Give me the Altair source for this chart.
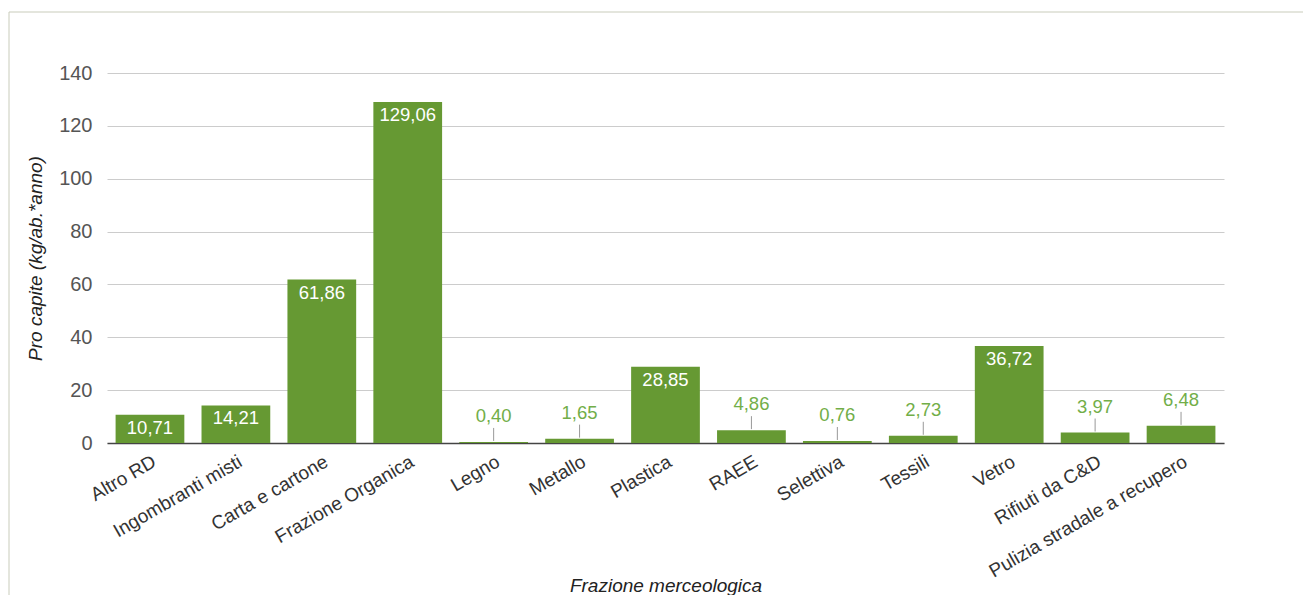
import altair as alt
import pandas as pd

categories = ["Altro RD", "Ingombranti misti", "Carta e cartone", "Frazione Organica",
              "Legno", "Metallo", "Plastica", "RAEE", "Selettiva", "Tessili", "Vetro",
              "Rifiuti da C&D", "Pulizia stradale a recupero"]
values = [10.71, 14.21, 61.86, 129.06, 0.40, 1.65, 28.85, 4.86, 0.76, 2.73, 36.72, 3.97, 6.48]

df = pd.DataFrame({"cat": categories, "v": values})

FONT = "Liberation Sans, Arial, sans-serif"
BAR = "#669933"
OUT_GREEN = "#72ae48"
THRESH = 10

base = alt.Chart(df).transform_calculate(
    label="replace(format(datum.v, '.2f'), '.', ',')"
)

x = alt.X("cat:N", sort=categories,
          scale=alt.Scale(paddingInner=0.2, paddingOuter=0.1),
          axis=alt.Axis(title="Frazione merceologica", labelAngle=-30, labelAlign="right",
                        labelBaseline="top", labelPadding=9, labelFontSize=19, labelLimit=0,
                        labelColor="#333333", ticks=False, domainColor="#444444",
                        domainWidth=1.5, titleFontSize=19, titleFontStyle="italic",
                        titleFontWeight="normal", titleColor="#222222",
                        titleY=152, titleBaseline="bottom", grid=False))
y = alt.Y("v:Q",
          scale=alt.Scale(domain=[0, 140], nice=False),
          axis=alt.Axis(title="Pro capite (kg/ab.*anno)", values=list(range(0, 141, 10)),
                        labelExpr="datum.value % 20 == 0 ? datum.label : ''",
                        labelFontSize=20, labelColor="#555555", labelPadding=15,
                        ticks=False, domain=False,
                        gridColor={"condition": {"test": "datum.value % 20 == 0", "value": "#cccccc"},
                                   "value": "#e8e8e8"},
                        titleFontSize=19, titleFontStyle="italic", titleFontWeight="normal",
                        titleColor="#222222", titleX=-72, titleY=185,
                        titleBaseline="middle", titleAlign="center"))

bars = base.mark_bar(color=BAR).encode(x=x, y=y)

inside = base.transform_filter(f"datum.v >= {THRESH}").mark_text(
    color="white", fontSize=18.5, baseline="middle", dy=13, font=FONT
).encode(x=alt.X("cat:N", sort=categories), y="v:Q", text="label:N")

outside = base.transform_filter(f"datum.v < {THRESH}").mark_text(
    color=OUT_GREEN, fontSize=18.5, baseline="middle", dy=-26, font=FONT
).encode(x=alt.X("cat:N", sort=categories), y="v:Q", text="label:N")

leaders = base.transform_filter(f"datum.v < {THRESH}").mark_rule(
    color="#999999", strokeWidth=1, yOffset=-1, y2Offset=-14
).encode(x=alt.X("cat:N", sort=categories), y="v:Q", y2="v")

border_top = alt.Chart(alt.Data(values=[{}])).mark_rule(color="#c9ccbb", strokeWidth=1).encode(
    x=alt.value(-98), x2=alt.value(1300), y=alt.value(-61))
border_left = alt.Chart(alt.Data(values=[{}])).mark_rule(color="#c9ccbb", strokeWidth=1).encode(
    x=alt.value(-98), y=alt.value(-61), y2=alt.value(700))

chart = alt.layer(border_top, border_left, bars, leaders, inside, outside).properties(
    width=1117, height=370,
    autosize=alt.AutoSizeParams(type="none"),
    padding={"left": 99, "top": 65, "right": 79, "bottom": 152},
).configure(font=FONT).configure_view(stroke=None)

chart.save("out.html", embed_options={"renderer": "svg", "actions": False})
